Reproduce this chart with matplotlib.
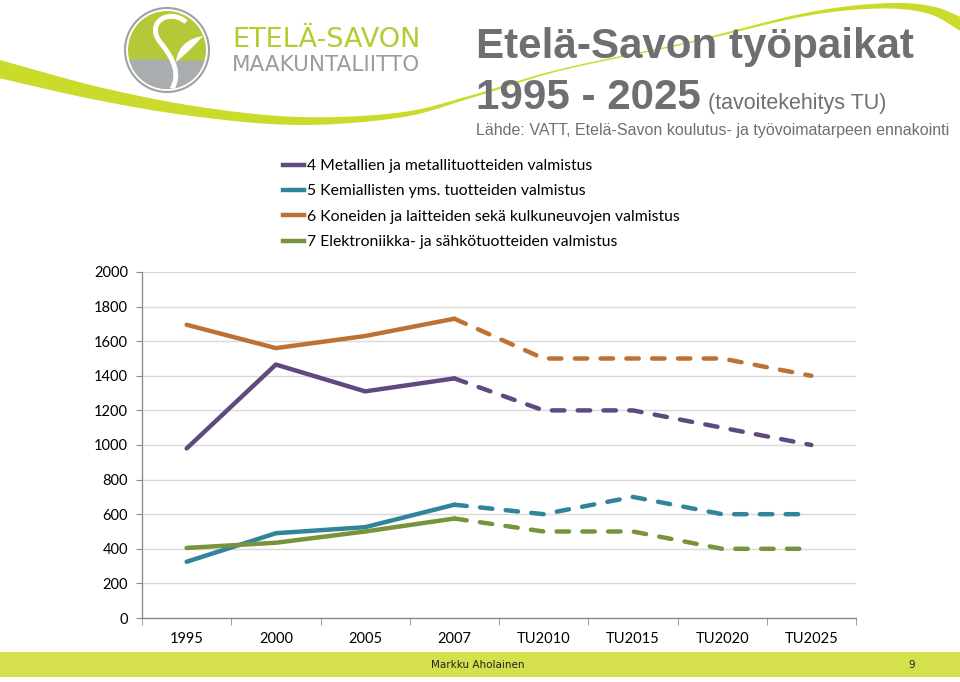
import matplotlib
matplotlib.use("Agg")
import numpy as np
import matplotlib.pyplot as plt
from matplotlib.path import Path
from matplotlib.patches import PathPatch, Circle, Rectangle, Polygon
from matplotlib.lines import Line2D

# Data
vuodet = ['1995', '2000', '2005', '2007', 'TU2010', 'TU2015', 'TU2020', 'TU2025']
metalli = [980, 1465, 1310, 1385, 1200, 1200, 1100, 1000]
kemia = [325, 490, 525, 655, 600, 700, 600, 600]
koneet = [1695, 1560, 1630, 1730, 1500, 1500, 1500, 1400]
elektro = [405, 435, 500, 575, 500, 500, 400, 400]
nimet = ['4 Metallien ja metallituotteiden valmistus',
         '5 Kemiallisten yms. tuotteiden valmistus',
         '6 Koneiden ja laitteiden sekä kulkuneuvojen valmistus',
         '7 Elektroniikka- ja sähkötuotteiden valmistus']
varit = ['#5F4A80', '#31849B', '#BD7132', '#77933C']
viim_toteutunut = 3  # 2007 on viimeinen toteutunut arvo

fig = plt.figure(figsize=(9.6, 6.82), dpi=100)
fig.patch.set_facecolor('white')

# Taustakoristeet pikselikoordinaateissa
bg = fig.add_axes([0, 0, 1, 1], zorder=0)
bg.set_xlim(0, 960)
bg.set_ylim(682, 0)
bg.axis('off')


def kaari(pisteet, leveydet, n=30):
    # Catmull-Rom -käyrä keskilinjalle ja sille vaihteleva paksuus
    p = np.array(pisteet, dtype=float)
    w = np.array(leveydet, dtype=float)
    p = np.vstack([2 * p[0] - p[1], p, 2 * p[-1] - p[-2]])
    w = np.concatenate([[w[0]], w, [w[-1]]])
    kesk, lev = [], []
    t = np.linspace(0, 1, n, endpoint=False)
    for i in range(1, len(p) - 2):
        p0, p1, p2, p3 = p[i - 1], p[i], p[i + 1], p[i + 2]
        for tt in t:
            kesk.append(0.5 * (2 * p1 + (-p0 + p2) * tt + (2 * p0 - 5 * p1 + 4 * p2 - p3) * tt ** 2
                               + (-p0 + 3 * p1 - 3 * p2 + p3) * tt ** 3))
            lev.append(w[i] + (w[i + 1] - w[i]) * tt)
    kesk.append(p[-2])
    lev.append(w[-2])
    kesk = np.array(kesk)
    lev = np.array(lev)
    d = np.gradient(kesk, axis=0)
    nrm = np.column_stack([-d[:, 1], d[:, 0]])
    nrm /= np.linalg.norm(nrm, axis=1)[:, None]
    ylä = kesk + nrm * lev[:, None] / 2
    ala = kesk - nrm * lev[:, None] / 2
    return np.vstack([ylä, ala[::-1]])


lime = '#CADB2C'
swoosh = kaari([(-5, 68), (100, 94), (200, 112), (300, 121), (400, 115), (470, 97),
                (560, 70), (687, 43), (803, 15), (880, 6), (930, 10), (965, 26)],
               [18, 13, 10, 8, 5, 2.5, 1.5, 1.5, 3, 5, 8, 13])
bg.add_patch(Polygon(swoosh, closed=True, facecolor=lime, edgecolor='none'))

# Logo
bg.add_patch(Circle((167, 50), 42, facecolor='white', edgecolor='#9FA2A5', lw=1.5))
sisa = Circle((167, 50), 39, facecolor='#B5C938', edgecolor='none')
bg.add_patch(sisa)
harmaa = PathPatch(Path([(120, 62), (150, 54), (185, 66), (215, 58), (215, 100), (120, 100), (120, 62)],
                        [Path.MOVETO, Path.CURVE4, Path.CURVE4, Path.CURVE4,
                         Path.LINETO, Path.LINETO, Path.CLOSEPOLY]),
                   facecolor='#A9ACB0', edgecolor='none')
bg.add_patch(harmaa)
harmaa.set_clip_path(sisa)
s_kaari = PathPatch(Path([(186, 22), (170, 8), (145, 22), (160, 42),
                          (175, 60), (180, 75), (172, 89)],
                         [Path.MOVETO, Path.CURVE4, Path.CURVE4, Path.CURVE4,
                          Path.CURVE4, Path.CURVE4, Path.CURVE4]),
                    facecolor='none', edgecolor='white', lw=3.5)
bg.add_patch(s_kaari)
s_kaari.set_clip_path(sisa)
lehti = PathPatch(Path([(176, 62), (178, 45), (190, 38), (203, 36), (195, 45), (188, 52), (176, 62)],
                       [Path.MOVETO, Path.CURVE4, Path.CURVE4, Path.CURVE4,
                        Path.CURVE4, Path.CURVE4, Path.CURVE4]),
                  facecolor='white', edgecolor='none')
bg.add_patch(lehti)

fig.text(232 / 960, 1 - 40 / 682, 'ETELÄ-SAVON', color='#B6CB30', fontsize=19.5,
         family='DejaVu Sans', va='center', ha='left')
fig.text(232 / 960, 1 - 65 / 682, 'MAAKUNTALIITTO', color='#9A9DA0', fontsize=15.5,
         family='DejaVu Sans', va='center', ha='left')

# Otsikot
harmaa_teksti = '#6E6F72'
fig.text(476 / 960, 1 - 47 / 682, 'Etelä-Savon työpaikat', color=harmaa_teksti,
         fontsize=30.3, fontweight='bold', family='Liberation Sans', va='center', ha='left')
fig.text(476 / 960, 1 - 98 / 682, '1995 - 2025', color=harmaa_teksti,
         fontsize=30.3, fontweight='bold', family='Liberation Sans', va='center', ha='left')
fig.text(708 / 960, 1 - 104 / 682, '(tavoitekehitys TU)', color=harmaa_teksti,
         fontsize=15.5, family='Liberation Sans', va='center', ha='left')
fig.text(476 / 960, 1 - 130 / 682,
         'Lähde: VATT, Etelä-Savon koulutus- ja työvoimatarpeen ennakointi',
         color=harmaa_teksti, fontsize=11.5, family='Liberation Sans', va='center', ha='left')

# Alapalkki
bg.add_patch(Rectangle((0, 652), 960, 25, facecolor='#D5E04D', edgecolor='none'))
fig.text(478 / 960, 1 - 665 / 682, 'Markku Aholainen', fontsize=7.5,
         family='Liberation Sans Narrow', va='center', ha='center', color='#222222')
fig.text(912 / 960, 1 - 665 / 682, '9', fontsize=7.5,
         family='Liberation Sans Narrow', va='center', ha='center', color='#222222')

# Kaavio
ax = fig.add_axes([142 / 960, 1 - 618 / 682, 714 / 960, 346 / 682], zorder=2)
ax.patch.set_alpha(0)
x = list(range(len(vuodet)))
sarjat = [metalli, kemia, koneet, elektro]
for arvot, nimi, vari in zip(sarjat, nimet, varit):
    ax.plot(x[:viim_toteutunut + 1], arvot[:viim_toteutunut + 1], color=vari,
            lw=3.2, solid_capstyle='round', solid_joinstyle='round')
    ax.plot(x[viim_toteutunut:], arvot[viim_toteutunut:], color=vari, lw=3.2,
            dashes=(2.8, 3.0), dash_capstyle='round', dash_joinstyle='round')

ax.set_xlim(-0.5, len(vuodet) - 0.5)
ax.set_ylim(0, 2000)
ax.set_yticks(range(0, 2001, 200))
ax.set_xticks(x)
ax.set_xticklabels(vuodet)
ax.set_xticks([i + 0.5 for i in range(-1, len(vuodet))], minor=True)
ax.grid(axis='y', color='#D9D9D9', lw=1)
ax.set_axisbelow(True)
for s in ['top', 'right']:
    ax.spines[s].set_visible(False)
for s in ['left', 'bottom']:
    ax.spines[s].set_color('#8C8C8C')
    ax.spines[s].set_linewidth(1)
ax.tick_params(axis='x', which='major', length=0, pad=10, labelsize=10.5)
ax.tick_params(axis='x', which='minor', length=5, color='#8C8C8C')
ax.tick_params(axis='y', length=4, color='#8C8C8C', pad=6, labelsize=10.5)
for t in ax.get_xticklabels() + ax.get_yticklabels():
    t.set_family('Lato')

kahvat = [Line2D([], [], color=v, lw=3.2) for v in varit]
fig.legend(kahvat, nimet, loc='upper left', bbox_to_anchor=(283 / 960, 1 - 159 / 682),
           frameon=False, borderpad=0, borderaxespad=0, handlelength=1.35,
           handletextpad=0.2, labelspacing=0.73, prop={'family': 'Lato', 'size': 11.3})

fig.savefig('out.png', dpi=100)
